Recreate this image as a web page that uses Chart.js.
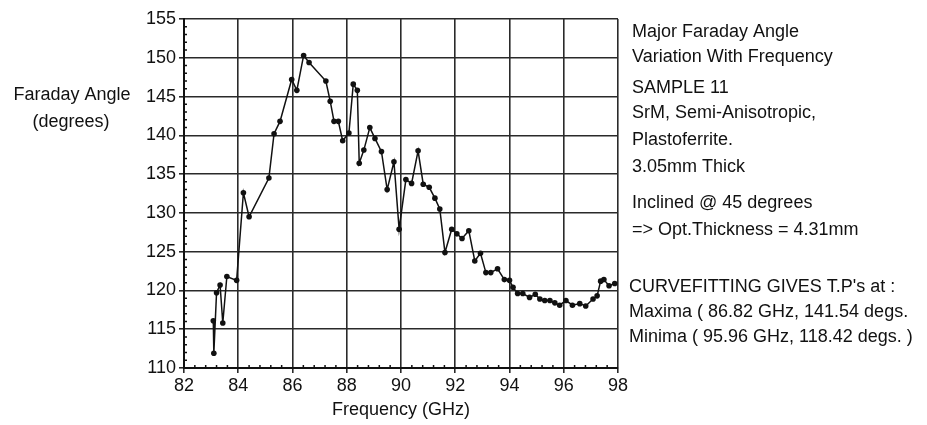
<!DOCTYPE html>
<html>
<head>
<meta charset="utf-8">
<script src="https://cdn.jsdelivr.net/npm/chart.js@4"></script>
<style>
  html, body { margin: 0; padding: 0; background: #fff; }
  #wrap { width: 927px; height: 425px; position: relative; }
</style>
</head>
<body>
<div id="wrap"><canvas id="myChart" width="927" height="425"></canvas></div>
<script>
// Data
var freq = [83.08, 83.1, 83.2, 83.33, 83.43, 83.58, 83.94, 84.19, 84.40,
  85.13, 85.32, 85.54, 85.97, 86.16, 86.41, 86.61, 87.23, 87.39, 87.53, 87.69, 87.85,
  88.08, 88.24, 88.39, 88.46, 88.63, 88.85, 89.04, 89.28, 89.49, 89.74, 89.93,
  90.18, 90.39, 90.63, 90.82, 91.04, 91.25, 91.43, 91.62, 91.87,
  92.06, 92.25, 92.5, 92.72, 92.93, 93.13, 93.31, 93.56, 93.81,
  94.0, 94.13, 94.3, 94.49, 94.74, 94.95, 95.12, 95.3, 95.49, 95.67, 95.85,
  96.08, 96.32, 96.59, 96.81, 97.08, 97.23, 97.36, 97.48, 97.67, 97.88];
var angle = [116.1, 111.9, 119.7, 120.7, 115.8, 121.8, 121.3, 132.6, 129.5,
  134.5, 140.2, 141.8, 147.2, 145.8, 150.3, 149.4, 147.0, 144.4, 141.8, 141.8, 139.3,
  140.3, 146.6, 145.8, 136.4, 138.1, 141.0, 139.6, 137.9, 133.0, 136.6, 127.9,
  134.3, 133.8, 138.0, 133.7, 133.3, 131.9, 130.5, 124.9, 127.9,
  127.3, 126.7, 127.7, 123.8, 124.8, 122.3, 122.3, 122.8, 121.4,
  121.3, 120.4, 119.6, 119.6, 119.1, 119.5, 118.9, 118.7, 118.7, 118.4, 118.1,
  118.7, 118.1, 118.3, 118.0, 118.9, 119.3, 121.2, 121.4, 120.6, 120.9];

var yTitleLines = ["Faraday Angle", "(degrees)"];
var xTitle = "Frequency (GHz)";
var noteLines = [
  "Major Faraday Angle",
  "Variation With Frequency",
  "SAMPLE 11",
  "SrM, Semi-Anisotropic,",
  "Plastoferrite.",
  "3.05mm Thick",
  "Inclined @ 45 degrees",
  "=> Opt.Thickness = 4.31mm",
  "CURVEFITTING GIVES T.P's at :",
  "Maxima ( 86.82 GHz, 141.54 degs.",
  "Minima ( 95.96 GHz, 118.42 degs. )"
];
var noteY = [32, 57, 88, 113, 140, 167, 203, 230, 287, 312, 337];

var FONT = "'Liberation Sans', Arial, Helvetica, sans-serif";
var INK = "#111";

// build point list for the chart
var points = [];
for (var i = 0; i < freq.length; i++) {
  points.push({ x: freq[i], y: angle[i] });
}

// extra texts + minor ticks
var extrasPlugin = {
  id: "extras",
  afterDraw: function (chart) {
    var c = chart.ctx;
    var xs = chart.scales.x;
    var ys = chart.scales.y;
    var area = chart.chartArea;
    c.save();
    // minor ticks
    c.strokeStyle = INK;
    c.lineWidth = 1.5;
    c.beginPath();
    for (var k = 1; k < 40; k++) {
      var fx = 82 + k * 0.4;
      if (k % 5 === 0) continue;
      var px = xs.getPixelForValue(fx);
      c.moveTo(px, area.bottom);
      c.lineTo(px, area.bottom - 3);
    }
    for (var v = 111; v < 155; v++) {
      if (v % 5 === 0) continue;
      var py = ys.getPixelForValue(v);
      c.moveTo(area.left, py);
      c.lineTo(area.left + 3, py);
    }
    c.stroke();

    c.fillStyle = INK;
    c.font = "18px " + FONT;
    c.textBaseline = "middle";
    // y title, horizontal
    c.textAlign = "center";
    c.fillText(yTitleLines[0], 72, 95);
    c.fillText(yTitleLines[1], 71, 122);
    // side notes
    c.textAlign = "left";
    for (var n = 0; n < noteLines.length; n++) {
      var nx = n >= 8 ? 629 : 632;
      c.fillText(noteLines[n], nx, noteY[n]);
    }
    c.restore();
  }
};

var ctx = document.getElementById("myChart").getContext("2d");
var myChart = new Chart(ctx, {
  type: "scatter",
  data: {
    datasets: [{
      data: points,
      showLine: true,
      borderColor: INK,
      borderWidth: 1.5,
      backgroundColor: INK,
      pointRadius: 2.8,
      pointBorderWidth: 0,
      tension: 0
    }]
  },
  options: {
    responsive: false,
    animation: false,
    events: [],
    layout: { padding: { left: 0, right: 309, top: 19, bottom: 0 } },
    plugins: {
      legend: { display: false },
      tooltip: { enabled: false }
    },
    scales: {
      x: {
        type: "linear",
        min: 82,
        max: 98,
        afterFit: function (scale) { scale.height = 57; },
        ticks: {
          stepSize: 2,
          color: INK,
          padding: 2,
          font: { family: FONT, size: 18 }
        },
        grid: { color: "#2a2a2a", lineWidth: 1.6, tickLength: 5 },
        border: { color: INK, width: 2 },
        title: {
          display: true,
          text: xTitle,
          color: INK,
          font: { family: FONT, size: 18 },
          padding: { top: 0, bottom: 4 }
        }
      },
      y: {
        min: 110,
        max: 155,
        afterFit: function (scale) { scale.width = 184; },
        ticks: {
          stepSize: 5,
          color: INK,
          padding: 3,
          font: { family: FONT, size: 18 }
        },
        grid: { color: "#2a2a2a", lineWidth: 1.6, tickLength: 5 },
        border: { color: INK, width: 2 }
      }
    }
  },
  plugins: [extrasPlugin]
});
</script>
</body>
</html>
